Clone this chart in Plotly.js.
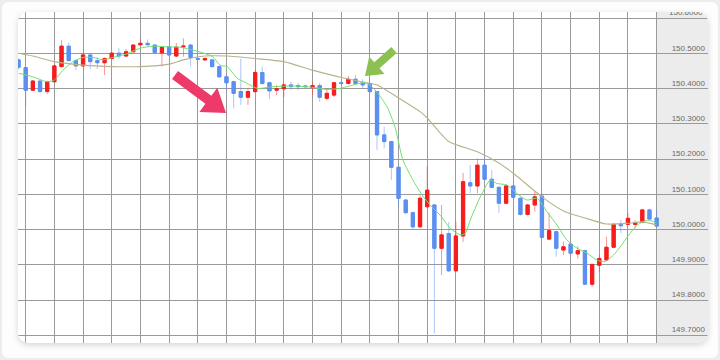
<!DOCTYPE html>
<html>
<head>
<meta charset="utf-8">
<script src="https://cdn.plot.ly/plotly-3.0.1.min.js"></script>
<style>
  html, body { margin: 0; padding: 0; background: #ededed; }
  #frame { position: absolute; left: 2px; top: 2px; width: 716px; height: 356px; background: #fdfdfd; border-radius: 6px; }
  #card { position: absolute; left: 18px; top: 12px; width: 690px; height: 331px; background: #ffffff;
          border-radius: 10px; box-shadow: 0 2px 6px rgba(0,0,0,0.16); }
  #chart { position: absolute; left: 0; top: 0; width: 720px; height: 360px;
           clip-path: inset(12px 12px 17px 18px round 10px); }
</style>
</head>
<body>
<div id="frame"></div>
<div id="card"></div>
<div id="chart"></div>
<script>
// ---- candle data (index 0..89) ----
const idx = Array.from({length: 90}, (_, i) => i);
const openV = [150.482,150.460,150.396,150.422,150.392,150.420,150.463,150.521,150.480,150.465,
  150.496,150.480,150.474,150.486,150.501,150.493,150.505,150.525,150.529,150.524,
  150.502,150.519,150.493,150.519,150.524,150.486,150.482,150.482,150.463,150.434,
  150.420,150.392,150.376,150.392,150.446,150.417,150.396,150.400,150.411,150.409,
  150.408,150.404,150.409,150.373,150.382,150.417,150.415,150.427,150.417,150.415,
  150.392,150.269,150.250,150.177,150.084,150.048,150.008,150.065,150.070,149.947,
  149.989,149.883,149.982,150.133,150.124,150.183,150.143,150.120,150.075,150.124,
  150.089,150.043,150.070,150.095,149.973,149.994,149.942,149.959,149.931,149.940,
  149.845,149.899,149.914,149.950,150.015,150.015,150.015,150.021,150.056,150.033];
const highV = [150.486,150.462,150.425,150.424,150.423,150.468,150.538,150.531,150.483,150.502,
  150.498,150.490,150.489,150.504,150.516,150.513,150.527,150.540,150.540,150.527,
  150.521,150.522,150.530,150.543,150.527,150.488,150.489,150.485,150.466,150.437,
  150.423,150.486,150.402,150.453,150.463,150.420,150.411,150.415,150.420,150.417,
  150.412,150.420,150.417,150.401,150.420,150.420,150.436,150.439,150.427,150.418,
  150.394,150.292,150.252,150.180,150.087,150.051,150.098,150.179,150.073,150.070,
  150.022,150.022,150.161,150.183,150.202,150.209,150.169,150.123,150.127,150.127,
  150.092,150.073,150.110,150.103,150.048,149.997,149.966,149.962,149.953,149.943,
  149.904,149.928,149.980,150.018,150.027,150.047,150.027,150.059,150.059,150.056];
const lowV = [150.455,150.351,150.393,150.389,150.385,150.418,150.461,150.477,150.453,150.462,
  150.456,150.456,150.439,150.484,150.484,150.490,150.503,150.523,150.523,150.500,
  150.463,150.493,150.490,150.491,150.463,150.481,150.479,150.460,150.431,150.396,
  150.345,150.354,150.354,150.389,150.412,150.371,150.382,150.377,150.396,150.396,
  150.402,150.382,150.363,150.368,150.376,150.412,150.412,150.411,150.401,150.389,
  150.226,150.231,150.141,150.065,150.046,150.001,150.005,150.062,149.705,149.871,
  149.880,149.880,149.965,150.103,150.103,150.140,150.117,150.048,150.072,150.089,
  150.040,150.040,150.051,149.975,149.970,149.923,149.928,149.930,149.918,149.842,
  149.838,149.880,149.911,149.947,149.990,150.012,150.004,150.018,150.027,150.007];
const closeV = [150.461,150.396,150.422,150.392,150.420,150.465,150.521,150.480,150.465,150.496,
  150.477,150.474,150.486,150.501,150.493,150.505,150.524,150.529,150.525,150.503,
  150.518,150.496,150.518,150.521,150.489,150.484,150.486,150.463,150.434,150.417,
  150.387,150.376,150.392,150.446,150.415,150.394,150.400,150.411,150.406,150.406,
  150.406,150.409,150.376,150.387,150.417,150.415,150.427,150.415,150.411,150.392,
  150.269,150.250,150.177,150.089,150.048,150.008,150.089,150.112,149.947,149.985,
  149.883,149.982,150.136,150.124,150.183,150.143,150.120,150.075,150.124,150.092,
  150.043,150.070,150.093,149.978,149.997,149.947,149.951,149.933,149.940,149.845,
  149.901,149.918,149.950,150.015,150.011,150.032,150.020,150.056,150.030,150.010];

// ---- moving average lines ----
const maLongX = [0,2,5,9,13,17,21,23,26,29,33,37,41,45,48,50,53,56,57,60,64,67,69,73,76,79,82,85,87,89];
const maLongY = [150.501,150.493,150.477,150.467,150.463,150.463,150.470,150.482,150.493,150.493,
  150.486,150.477,150.453,150.432,150.419,150.411,150.374,150.335,150.317,150.250,
  150.221,150.189,150.160,150.093,150.053,150.033,150.016,150.018,150.022,150.013];
const maShortX = [0,2,4,5,6.2,7.6,9,10.4,11.8,13.2,15.1,16.9,18.8,20.7,22.5,24.3,25.7,27.1,28.1,29.1,
  29.9,30.5,31.9,33.3,35.5,38.3,41.1,43,44.8,46.7,48,49,50.1,51.4,52.5,53.6,55,56.3,57.4,58.8,
  60.2,61.6,62.3,63,64.4,65.8,66.7,68.1,69.5,70.9,72.3,73.7,75.1,76.5,77.9,79.3,80.7,81.8,83,84,
  84.9,86.3,87.7,89];
const maShortY = [150.444,150.434,150.420,150.425,150.453,150.477,150.489,150.489,150.482,150.489,
  150.499,150.515,150.521,150.519,150.518,150.510,150.502,150.491,150.467,150.463,
  150.444,150.430,150.415,150.401,150.406,150.408,150.404,150.398,150.401,150.411,
  150.417,150.411,150.387,150.349,150.292,150.198,150.141,150.098,150.070,150.041,
  150.004,149.985,149.989,150.027,150.093,150.141,150.131,150.127,150.103,150.084,
  150.089,150.051,150.013,149.970,149.947,149.933,149.913,149.909,149.928,149.953,
  149.979,150.013,150.027,150.020];

const yTicks = [149.7,149.8,149.9,150.0,150.1,150.2,150.3,150.4,150.5,150.6];
const topTickLabel = '150.6000';
const xGrid = [];
for (let k = 1; k <= 89; k += 4) xGrid.push(k);

const RED = '#f51d1d', BLUE = '#5b8ff0';
const bodyHigh = openV.map((o, i) => Math.max(o, closeV[i]));
const bodyLow = openV.map((o, i) => Math.min(o, closeV[i]));

const traces = [
  { type: 'candlestick', x: idx, open: openV, high: highV, low: lowV, close: closeV,
    increasing: { line: { color: 'rgba(245,60,60,0.55)', width: 1 }, fillcolor: 'rgba(245,60,60,0.55)' },
    decreasing: { line: { color: 'rgba(91,143,240,0.5)', width: 1 }, fillcolor: 'rgba(91,143,240,0.5)' },
    hoverinfo: 'skip', showlegend: false },
  { type: 'candlestick', x: idx, open: openV, high: bodyHigh, low: bodyLow, close: closeV,
    increasing: { line: { color: RED, width: 1 }, fillcolor: RED },
    decreasing: { line: { color: BLUE, width: 1 }, fillcolor: BLUE },
    hoverinfo: 'skip', showlegend: false },
  { type: 'scatter', mode: 'lines', x: maLongX, y: maLongY,
    line: { color: '#b8b28c', width: 1.1, shape: 'spline', smoothing: 0.6 }, hoverinfo: 'skip', showlegend: false },
  { type: 'scatter', mode: 'lines', x: maShortX, y: maShortY,
    line: { color: '#6fe06f', width: 1, shape: 'spline', smoothing: 0.6 }, hoverinfo: 'skip', showlegend: false }
];

// plot area in pixels: x 18..708, y 12..343
const PL = 18, PR = 708, PT = 12, PB = 343;
function px2paper(px, py) { return [(px - PL) / (PR - PL), (PB - py) / (PB - PT)]; }
function arrowPath(tail, tip, sw, hw, hl) {
  const dx = tip[0] - tail[0], dy = tip[1] - tail[1];
  const len = Math.hypot(dx, dy), ux = dx / len, uy = dy / len;
  const nx = -uy, ny = ux;
  const bx = tip[0] - ux * hl, by = tip[1] - uy * hl;
  const pts = [
    [tail[0] + nx * sw / 2, tail[1] + ny * sw / 2],
    [bx + nx * sw / 2, by + ny * sw / 2],
    [bx + nx * hw / 2, by + ny * hw / 2],
    [tip[0], tip[1]],
    [bx - nx * hw / 2, by - ny * hw / 2],
    [bx - nx * sw / 2, by - ny * sw / 2],
    [tail[0] - nx * sw / 2, tail[1] - ny * sw / 2]
  ].map(p => px2paper(p[0], p[1]));
  return 'M' + pts.map(p => p[0].toFixed(4) + ',' + p[1].toFixed(4)).join(' L') + ' Z';
}

const tickFont = { family: 'Liberation Sans, Arial, sans-serif', size: 8, color: '#6a6a6a' };

const layout = {
  width: 720, height: 360,
  margin: { l: PL, r: 720 - PR, t: PT, b: 360 - PB, pad: 0 },
  paper_bgcolor: 'rgba(0,0,0,0)', plot_bgcolor: 'rgba(0,0,0,0)',
  showlegend: false, boxgap: 0.35, boxmode: 'overlay',
  xaxis: { range: [-0.074, 96.16], tickvals: xGrid, showticklabels: false, ticks: '',
           showgrid: true, gridcolor: '#9a9a9a', gridwidth: 1, zeroline: false, showline: false,
           rangeslider: { visible: false }, fixedrange: true },
  yaxis: { side: 'right', range: [149.678, 150.618], tickvals: yTicks, tickformat: '.4f',
           ticklabelposition: 'inside top', ticks: '', showgrid: true, gridcolor: '#9a9a9a', gridwidth: 1,
           zeroline: false, showline: false, tickfont: tickFont },
  annotations: [
    { xref: 'paper', yref: 'y', x: 1, y: yTicks[yTicks.length - 1], xanchor: 'right', yanchor: 'bottom',
      xshift: -3, yshift: -1, text: topTickLabel, showarrow: false, font: tickFont }
  ],
  shapes: [
    { type: 'rect', xref: 'paper', yref: 'paper', x0: (657 - PL) / (PR - PL), x1: 1, y0: 0, y1: 1,
      fillcolor: '#ececec', line: { width: 0 }, layer: 'below' },
    { type: 'path', xref: 'paper', yref: 'paper', path: arrowPath([175, 75], [226, 113], 10, 30, 22),
      fillcolor: '#ee3a6a', line: { width: 0 }, layer: 'above' },
    { type: 'path', xref: 'paper', yref: 'paper', path: arrowPath([394, 50], [365, 76], 8, 23, 16),
      fillcolor: '#8cc152', line: { width: 0 }, layer: 'above' }
  ]
};

Plotly.newPlot('chart', traces, layout, { displayModeBar: false, staticPlot: true });
</script>
</body>
</html>
